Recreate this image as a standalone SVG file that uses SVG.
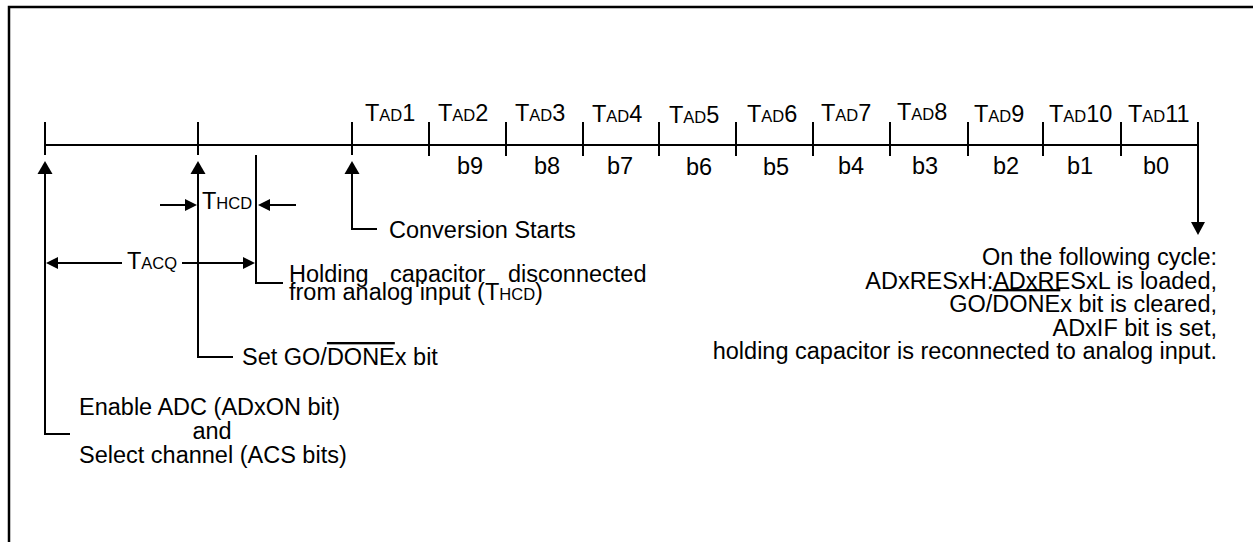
<svg xmlns="http://www.w3.org/2000/svg" width="1253" height="542" viewBox="0 0 1253 542">
<style>
text{font-family:"Liberation Sans",Arial,sans-serif;font-size:23.5px;fill:#000}
.sc{font-size:16.5px}
.ln{stroke:#000;stroke-width:2;fill:none}
.ah{fill:#000;stroke:none}
.ov{text-decoration:overline}
</style>
<rect x="0" y="0" width="1253" height="542" fill="#fff"/>
<path id="frame" d="M9,545 V7 H1256" fill="none" stroke="#000" stroke-width="2.5"/>

<g id="connectors">
  <path class="ln" d="M45,145 H1198"/>
  <path class="ln" d="M45,122 V155 M198,122 V155 M352,122 V155"/>
  <path class="ln" d="M429,122 V156 M506,122 V156 M583,122 V156 M659,122 V156 M736,122 V156 M813,122 V156 M890,122 V156 M968,122 V156 M1043,122 V156 M1121,122 V156"/>
  <path class="ln" d="M1198,122 V224"/>
  <path class="ah" d="M1191,222 L1205,222 L1198,235 Z"/>
  <path class="ln" d="M45,172 V434 H70"/>
  <path class="ah" d="M37.5,174 L52.5,174 L45,161 Z"/>
  <path class="ln" d="M198,172 V357 H233"/>
  <path class="ah" d="M190.5,174 L205.5,174 L198,161 Z"/>
  <path class="ln" d="M352,172 V229 H377"/>
  <path class="ah" d="M344.5,174 L359.5,174 L352,161 Z"/>
  <path class="ln" d="M256,155 V283 H283"/>
  <path class="ln" d="M160,205 H187"/>
  <path class="ah" d="M185,199 L185,211 L197,205 Z"/>
  <path class="ln" d="M296,205 H268"/>
  <path class="ah" d="M270,199 L270,211 L258,205 Z"/>
  <path class="ln" d="M56,263 H122 M182,263 H245"/>
  <path class="ah" d="M58,257 L58,269 L46,263 Z"/>
  <path class="ah" d="M243,257 L243,269 L255,263 Z"/>
</g>

<g id="tad-labels">
  <text x="365" y="121">T<tspan class="sc">AD</tspan>1</text>
  <text x="438" y="121">T<tspan class="sc">AD</tspan>2</text>
  <text x="515" y="121">T<tspan class="sc">AD</tspan>3</text>
  <text x="592" y="122">T<tspan class="sc">AD</tspan>4</text>
  <text x="669" y="123">T<tspan class="sc">AD</tspan>5</text>
  <text x="747" y="122">T<tspan class="sc">AD</tspan>6</text>
  <text x="821" y="121">T<tspan class="sc">AD</tspan>7</text>
  <text x="897" y="120">T<tspan class="sc">AD</tspan>8</text>
  <text x="974" y="122">T<tspan class="sc">AD</tspan>9</text>
  <text x="1049" y="122">T<tspan class="sc">AD</tspan>10</text>
  <text x="1128" y="122">T<tspan class="sc">AD</tspan>11</text>
</g>

<g id="bit-labels">
  <text x="457" y="174">b9</text>
  <text x="534" y="174">b8</text>
  <text x="607" y="174">b7</text>
  <text x="686" y="175">b6</text>
  <text x="763" y="175">b5</text>
  <text x="838" y="174">b4</text>
  <text x="912" y="174">b3</text>
  <text x="993" y="174">b2</text>
  <text x="1067" y="174">b1</text>
  <text x="1143" y="174">b0</text>
</g>

<g id="thcd-label">
  <text x="202" y="209">T<tspan class="sc">HCD</tspan></text>
</g>

<g id="tacq-label">
  <text x="127" y="269">T<tspan class="sc">ACQ</tspan></text>
</g>

<g id="conversion-starts">
  <text x="389" y="238">Conversion Starts</text>
</g>

<g id="holding-disconnected">
  <text y="282"><tspan x="289">Holding</tspan><tspan x="390">capacitor</tspan><tspan x="508">disconnected</tspan></text>
  <text x="289" y="300">from analog input (T<tspan class="sc">HCD</tspan>)</text>
</g>

<g id="set-go-done">
  <text x="242" y="365">Set GO/<tspan class="ov">DONE</tspan>x bit</text>
</g>

<g id="enable-adc">
  <text x="79" y="415">Enable ADC (ADxON bit)</text>
  <text x="212" y="439" text-anchor="middle">and</text>
  <text x="79" y="463">Select channel (ACS bits)</text>
</g>

<g id="following-cycle" text-anchor="end">
  <text x="1217" y="265">On the following cycle:</text>
  <text x="1217" y="288.5">ADxRESxH:ADxRESxL is loaded,</text>
  <text x="1217" y="312">GO/<tspan class="ov">DONE</tspan>x bit is cleared,</text>
  <text x="1217" y="335.5">ADxIF bit is set,</text>
  <text x="1217" y="359">holding capacitor is reconnected to analog input.</text>
</g>
</svg>
